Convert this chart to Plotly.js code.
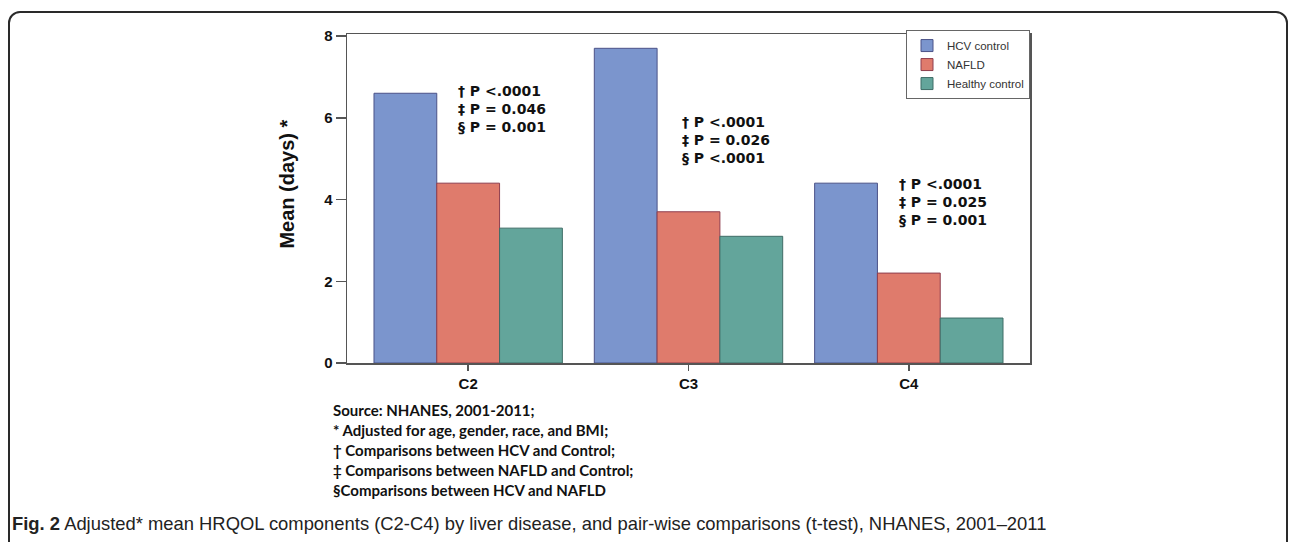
<!DOCTYPE html>
<html>
<head>
<meta charset="utf-8">
<script src="https://cdn.plot.ly/plotly-3.0.1.min.js"></script>
<style>
  html, body { margin:0; padding:0; background:#ffffff; overflow:hidden; }
  #frame { position:absolute; left:8px; top:11px; width:1280px; height:560px; border:2px solid #2a2a2a; border-radius:12px; box-sizing:border-box; }
  #chart { position:absolute; left:0; top:0; width:1292px; height:542px; }
</style>
</head>
<body>
<div id="frame"></div>
<div id="chart"></div>
<script>
// ---- data ----
const categories = ['C2', 'C3', 'C4'];
const seriesNames = ['HCV control', 'NAFLD', 'Healthy control'];
const hcvControl = [6.6, 7.7, 4.4];
const nafld = [4.4, 3.7, 2.2];
const healthyControl = [3.3, 3.1, 1.1];
const yTickValues = [0, 2, 4, 6, 8];
const pValueNotes = [
  ['† P <.0001', '‡ P = 0.046', '§ P = 0.001'],
  ['† P <.0001', '‡ P = 0.026', '§ P <.0001'],
  ['† P <.0001', '‡ P = 0.025', '§ P = 0.001']
];
const footnoteLines = [
  'Source: NHANES, 2001-2011;',
  '* Adjusted for age, gender, race, and BMI;',
  '† Comparisons between HCV and Control;',
  '‡ Comparisons between NAFLD and Control;',
  '§Comparisons between HCV and NAFLD'
];
const yAxisTitle = 'Mean (days) *';
const captionBold = 'Fig. 2';
const captionText = ' Adjusted* mean HRQOL components (C2-C4) by liver disease, and pair-wise comparisons (t-test), NHANES, 2001–2011';

// ---- styles ----
const fills = ['#7b95cd', '#df7b6c', '#63a59b'];
const edges = ['#4b5288', '#8e3e4e', '#3f6d67'];
const seriesValues = [hcvControl, nafld, healthyControl];

const traces = seriesValues.map((vals, i) => ({
  type: 'bar',
  name: seriesNames[i],
  x: categories,
  y: vals,
  marker: { color: fills[i], line: { color: edges[i], width: 1 } },
  hoverinfo: 'skip'
}));

// P-value annotation placement (per group): horizontal shift from category center and vertical center (data units)
const noteShift = [-12, -9, -12];
const noteY = [6.22, 5.46, 3.94];
const annotations = [];
pValueNotes.forEach((lines, gi) => {
  annotations.push({
    xref: 'x', yref: 'y', x: categories[gi], y: noteY[gi],
    xshift: noteShift[gi], xanchor: 'left', yanchor: 'middle', align: 'left',
    showarrow: false, text: lines.join('<br>'),
    font: { family: 'DejaVu Sans', size: 14, color: '#111', weight: 'bold' }
  });
});
// y-axis title as rotated text
annotations.push({
  xref: 'paper', yref: 'paper', x: -0.088, y: 0.545, xanchor: 'center', yanchor: 'middle',
  textangle: -90, showarrow: false, text: yAxisTitle,
  font: { family: 'Liberation Sans, Arial, sans-serif', size: 20, color: '#111', weight: 'bold' }
});
// footnotes
footnoteLines.forEach((t, i) => {
  annotations.push({
    xref: 'paper', yref: 'paper', x: -0.024, y: -0.142 - i * 0.0612,
    xanchor: 'left', yanchor: 'middle', align: 'left', showarrow: false, text: t,
    font: { family: 'Lato, sans-serif', size: 15, color: '#111', weight: 'bold' }
  });
});
// caption
annotations.push({
  xref: 'paper', yref: 'paper', x: -0.494, y: -0.489, xanchor: 'left', yanchor: 'middle',
  showarrow: false, align: 'left',
  text: '<b>' + captionBold + '</b>' + captionText,
  font: { family: 'Liberation Sans, Arial, sans-serif', size: 18.4, color: '#222' }
});

const layout = {
  width: 1292, height: 542,
  margin: { l: 347, r: 262, t: 34, b: 179, pad: 0 },
  paper_bgcolor: 'rgba(0,0,0,0)', plot_bgcolor: '#ffffff',
  barmode: 'group', bargap: 0.145, bargroupgap: 0,
  showlegend: true,
  legend: {
    x: 1, xanchor: 'right', y: 1.012, yanchor: 'top',
    bgcolor: '#ffffff', bordercolor: '#666', borderwidth: 1,
    font: { family: 'Liberation Sans, Arial, sans-serif', size: 11.5, color: '#333' },
    itemwidth: 30
  },
  xaxis: {
    type: 'category', range: [-0.55, 2.55],
    showline: true, mirror: true, linecolor: '#555', linewidth: 1.5,
    ticks: 'outside', ticklen: 6, tickcolor: '#555', tickwidth: 1.5,
    showgrid: false, zeroline: false,
    tickfont: { family: 'Liberation Sans, Arial, sans-serif', size: 15, color: '#111', weight: 'bold' }
  },
  yaxis: {
    range: [0, 8.05], tickvals: yTickValues, ticktext: yTickValues.map(String),
    showline: true, mirror: true, linecolor: '#555', linewidth: 1.5,
    ticks: 'outside', ticklen: 10, tickcolor: '#555', tickwidth: 1.5,
    showgrid: false, zeroline: false,
    tickfont: { family: 'Liberation Sans, Arial, sans-serif', size: 15, color: '#111', weight: 'bold' }
  },
  annotations: annotations
};

Plotly.newPlot('chart', traces, layout, { staticPlot: true, displayModeBar: false });
</script>
</body>
</html>
